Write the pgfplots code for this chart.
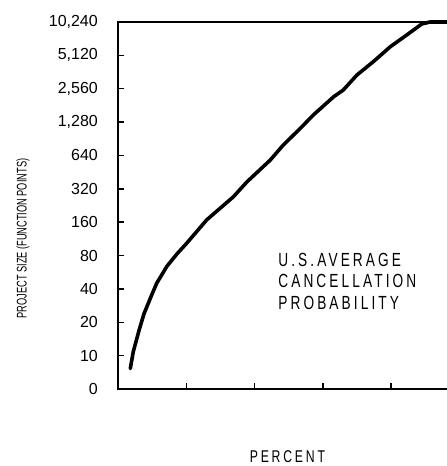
\documentclass[border=0pt]{standalone}
\usepackage{pgfplots}
\pgfplotsset{compat=1.18}
\usepackage{fontspec}
\setmainfont{Liberation Sans}
\newfontfamily\narrowfont[FakeStretch=0.66]{Liberation Sans}
\newfontfamily\spacedfont[FakeStretch=0.72,LetterSpace=16.3]{Liberation Sans}
\begin{document}
\begin{tikzpicture}
\path[use as bounding box] (-118bp,-77bp) rectangle (329bp,389bp);
\begin{axis}[
  at={(0,0)}, anchor=south west,
  scale only axis, width=329bp, height=367bp,
  xmin=0, xmax=48.2, ymin=0, ymax=11,
  axis lines=left, axis line style={-, line width=1.8bp, line cap=rect},
  xtick={10,20,30,40}, xticklabels={},
  ytick={0,1,2,3,4,5,6,7,8,9,10,11},
  yticklabels={0,10,20,40,80,160,320,640,{1,280},{2,560},{5,120},{10,240}},
  tick align=inside, major tick length=6bp,
  tick style={line width=1.5bp, black},
  yticklabel style={font=\fontsize{16bp}{18bp}\selectfont, inner sep=0pt, anchor=east, xshift=-20bp},
  /pgf/number format/assume math mode=true,
  clip=false,
]
\addplot[black, line width=3.6bp, line join=round, line cap=round] coordinates {
(1.8,0.61) (2.24,1.12) (3.1,1.77) (3.8,2.25) (4.94,2.82) (5.67,3.17)
(7.14,3.67) (8.6,4.04) (10.07,4.37) (13.0,5.07) (16.9,5.76) (18.9,6.21)
(22.3,6.86) (24.2,7.31) (26.7,7.81) (28.6,8.21) (31.6,8.76) (33.0,8.96)
(35.0,9.41) (37.4,9.81) (39.9,10.26) (42.3,10.61) (44.5,10.94) (45.7,11.0) (48.2,11.0)
};
\draw[line width=1.8bp] (rel axis cs:0,1) -- (rel axis cs:1,1);
\node[anchor=base west, inner sep=0pt, font=\spacedfont\fontsize{19bp}{21bp}\selectfont] at (axis cs:23.46,3.657) {U.S.AVERAGE};
\node[anchor=base west, inner sep=0pt, font=\spacedfont\fontsize{19bp}{21bp}\selectfont] at (axis cs:23.46,3.028) {CANCELLATION};
\node[anchor=base west, inner sep=0pt, font=\spacedfont\fontsize{19bp}{21bp}\selectfont] at (axis cs:23.46,2.368) {PROBABILITY};
\node[anchor=base, inner sep=0pt, font=\spacedfont\fontsize{17bp}{19bp}\selectfont] at (rel axis cs:0.515,-0.2015) {PERCENT};
\node[rotate=90, inner sep=0pt, font=\narrowfont\fontsize{14bp}{16bp}\selectfont] at (rel axis cs:-0.2888,0.41) {PROJECT SIZE (FUNCTION POINTS)};
\end{axis}
\end{tikzpicture}
\end{document}
